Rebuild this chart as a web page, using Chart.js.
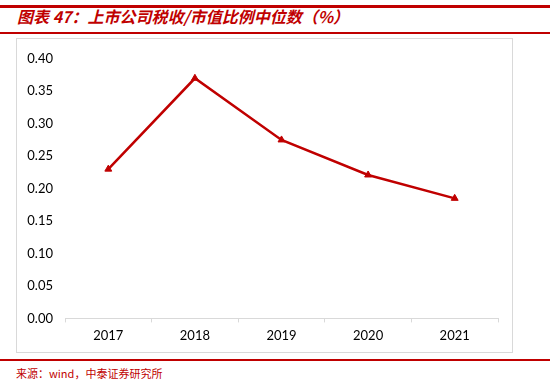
<!DOCTYPE html>
<html><head><meta charset="utf-8">
<script src="https://cdn.jsdelivr.net/npm/chart.js@4/dist/chart.umd.min.js"></script>
<style>
html,body{margin:0;padding:0;background:#fff;width:550px;height:383px;overflow:hidden;position:relative;font-family:"Noto Sans CJK SC",sans-serif;}
.rule{position:absolute;left:0;width:550px;background:#c00000;}
#title{position:absolute;left:17px;top:6px;font-size:16px;font-weight:bold;font-style:italic;color:#c00000;white-space:nowrap;line-height:20px;}
#box{position:absolute;left:16px;top:38px;width:495px;height:313px;border:1px solid #d9d9d9;}
#src{position:absolute;left:16px;top:365px;font-size:11px;color:#c00000;line-height:16px;white-space:nowrap;}
</style></head>
<body>
<div class="rule" style="top:5px;height:3px;"></div>
<div id="title">图表 47：上市公司税收/市值比例中位数（%）</div>
<div class="rule" style="top:32px;height:2px;"></div>
<div id="box"><canvas id="c" width="495" height="313"></canvas></div>
<div class="rule" style="top:359px;height:2px;"></div>
<div id="src">来源：wind，中泰证券研究所</div>
<script>
const categories = ["2017","2018","2019","2020","2021"];
const ratioValues = [0.230, 0.370, 0.275, 0.221, 0.185];
const yTicks = [0.00,0.05,0.10,0.15,0.20,0.25,0.30,0.35,0.40];

new Chart(document.getElementById('c'), {
  type: 'line',
  data: {
    labels: categories,
    datasets: [{
      data: ratioValues,
      borderColor: '#c00000',
      backgroundColor: '#c00000',
      borderWidth: 2.5,
      pointStyle: 'triangle',
      pointRadius: 4,
      pointBorderWidth: 1,
      tension: 0,
      fill: false
    }]
  },
  options: {
    responsive: false,
    animation: false,
    layout: { padding: { top: 7, right: 14, bottom: 2, left: 0 } },
    plugins: { legend: { display: false }, tooltip: { enabled: false } },
    scales: {
      x: {
        offset: true,
        grid: { display: true, offset: true, drawOnChartArea: false, drawTicks: true, tickLength: 4, color: '#d9d9d9' },
        border: { display: true, color: '#d9d9d9', width: 1 },
        ticks: { color: '#000', font: { family: 'Lato, "Open Sans", sans-serif', size: 13 }, padding: 6 }
      },
      y: {
        min: 0, max: 0.40,
        afterFit(s){ s.width = 48; },
        afterBuildTicks(s){ s.ticks = yTicks.map(v => ({value: v})); },
        grid: { display: false, drawTicks: false },
        border: { display: false },
        ticks: { color: '#000', font: { family: 'Lato, "Open Sans", sans-serif', size: 13 }, padding: 12,
                 callback: v => Number(v).toFixed(2) }
      }
    }
  }
});
</script>
</body></html>
